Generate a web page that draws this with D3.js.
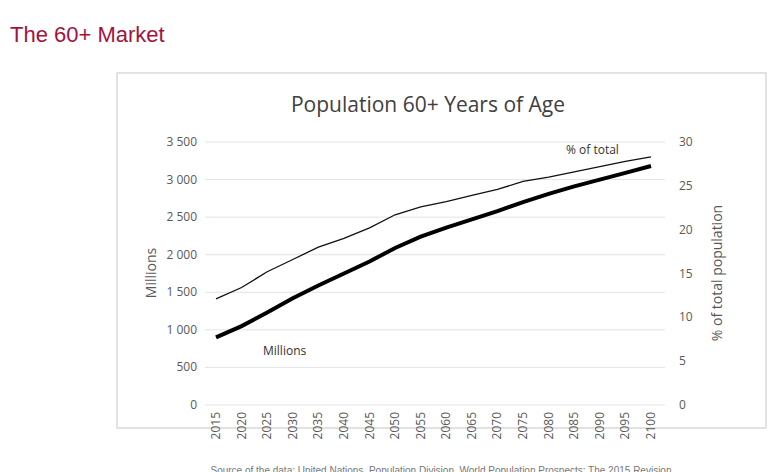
<!DOCTYPE html>
<html><head><meta charset="UTF-8">
<script src="https://d3js.org/d3.v7.min.js"></script>
<style>body{margin:0;background:#fff;font-family:"Liberation Sans",Arial,sans-serif}</style>
</head><body>
<svg id="c" width="776" height="472"></svg>
<script>
const years = [2015,2020,2025,2030,2035,2040,2045,2050,2055,2060,2065,2070,2075,2080,2085,2090,2095,2100];
const millions = [900,1050,1230,1420,1590,1750,1910,2090,2240,2360,2470,2580,2700,2810,2910,3000,3090,3180];
const pctTotal = [12.1,13.4,15.2,16.6,18.0,19.0,20.2,21.7,22.6,23.2,23.9,24.6,25.5,26.0,26.6,27.2,27.8,28.3];
const leftTicks = [0,500,1000,1500,2000,2500,3000,3500];
const rightTicks = [0,5,10,15,20,25,30];

const svg = d3.select('#c');
svg.append('text').attr('x',10).attr('y',42).attr('font-size',22).attr('fill','#a3123f').text('The 60+ Market');
svg.append('rect').attr('x',117).attr('y',73).attr('width',649).attr('height',355).attr('fill','#fff').attr('stroke','#d9d9d9').attr('stroke-width',1.5);
svg.append('text').attr('x',428).attr('y',112).attr('text-anchor','middle').attr('font-family','Open Sans, sans-serif').attr('font-size',21).attr('fill','#404040').text('Population 60+ Years of Age');

const x = d3.scalePoint().domain(years).range([216,651]);
const yL = d3.scaleLinear().domain([0,3500]).range([405,142]);
const yR = d3.scaleLinear().domain([0,30]).range([405,142]);
const fmt = d => d3.format(',')(d).replace(',', ' ');
const tf = 'Open Sans, sans-serif', tc = '#595959';

svg.append('g').selectAll('line').data(leftTicks).join('line')
  .attr('x1',205).attr('x2',665).attr('y1',d=>yL(d)).attr('y2',d=>yL(d)).attr('stroke','#e3e3e3');
svg.append('g').selectAll('text').data(leftTicks).join('text')
  .attr('x',197).attr('y',d=>yL(d)+4).attr('text-anchor','end').attr('font-family',tf).attr('font-size',12).attr('fill',tc).text(fmt);
svg.append('g').selectAll('text').data(rightTicks).join('text')
  .attr('x',679).attr('y',d=>yR(d)+4).attr('font-family',tf).attr('font-size',12).attr('fill',tc).text(d=>d);
svg.append('g').selectAll('text').data(years).join('text')
  .attr('transform',d=>`translate(${x(d)+4},412) rotate(-90)`).attr('text-anchor','end')
  .attr('font-family',tf).attr('font-size',12).attr('fill',tc).text(d=>d);

svg.append('text').attr('transform','translate(156,273) rotate(-90)').attr('text-anchor','middle').attr('font-family',tf).attr('font-size',14).attr('fill',tc).text('Millions');
svg.append('text').attr('transform','translate(722,273) rotate(-90)').attr('text-anchor','middle').attr('font-family',tf).attr('font-size',14).attr('fill',tc).text('% of total population');

svg.append('path').datum(pctTotal.map((v,i)=>[years[i],v])).attr('fill','none').attr('stroke','#111').attr('stroke-width',1.3)
  .attr('d',d3.line().x(d=>x(d[0])).y(d=>yR(d[1])));
svg.append('path').datum(millions.map((v,i)=>[years[i],v])).attr('fill','none').attr('stroke','#000').attr('stroke-width',4)
  .attr('d',d3.line().x(d=>x(d[0])).y(d=>yL(d[1])));

svg.append('text').attr('x',566).attr('y',154).attr('font-family',tf).attr('font-size',12).attr('fill','#333').text('% of total');
svg.append('text').attr('x',263).attr('y',355).attr('font-family',tf).attr('font-size',12).attr('fill','#333').text('Millions');

svg.append('text').attr('x',441).attr('y',474).attr('text-anchor','middle').attr('font-size',10).attr('fill','#777')
  .text('Source of the data: United Nations, Population Division, World Population Prospects: The 2015 Revision');
</script>
</body></html>
